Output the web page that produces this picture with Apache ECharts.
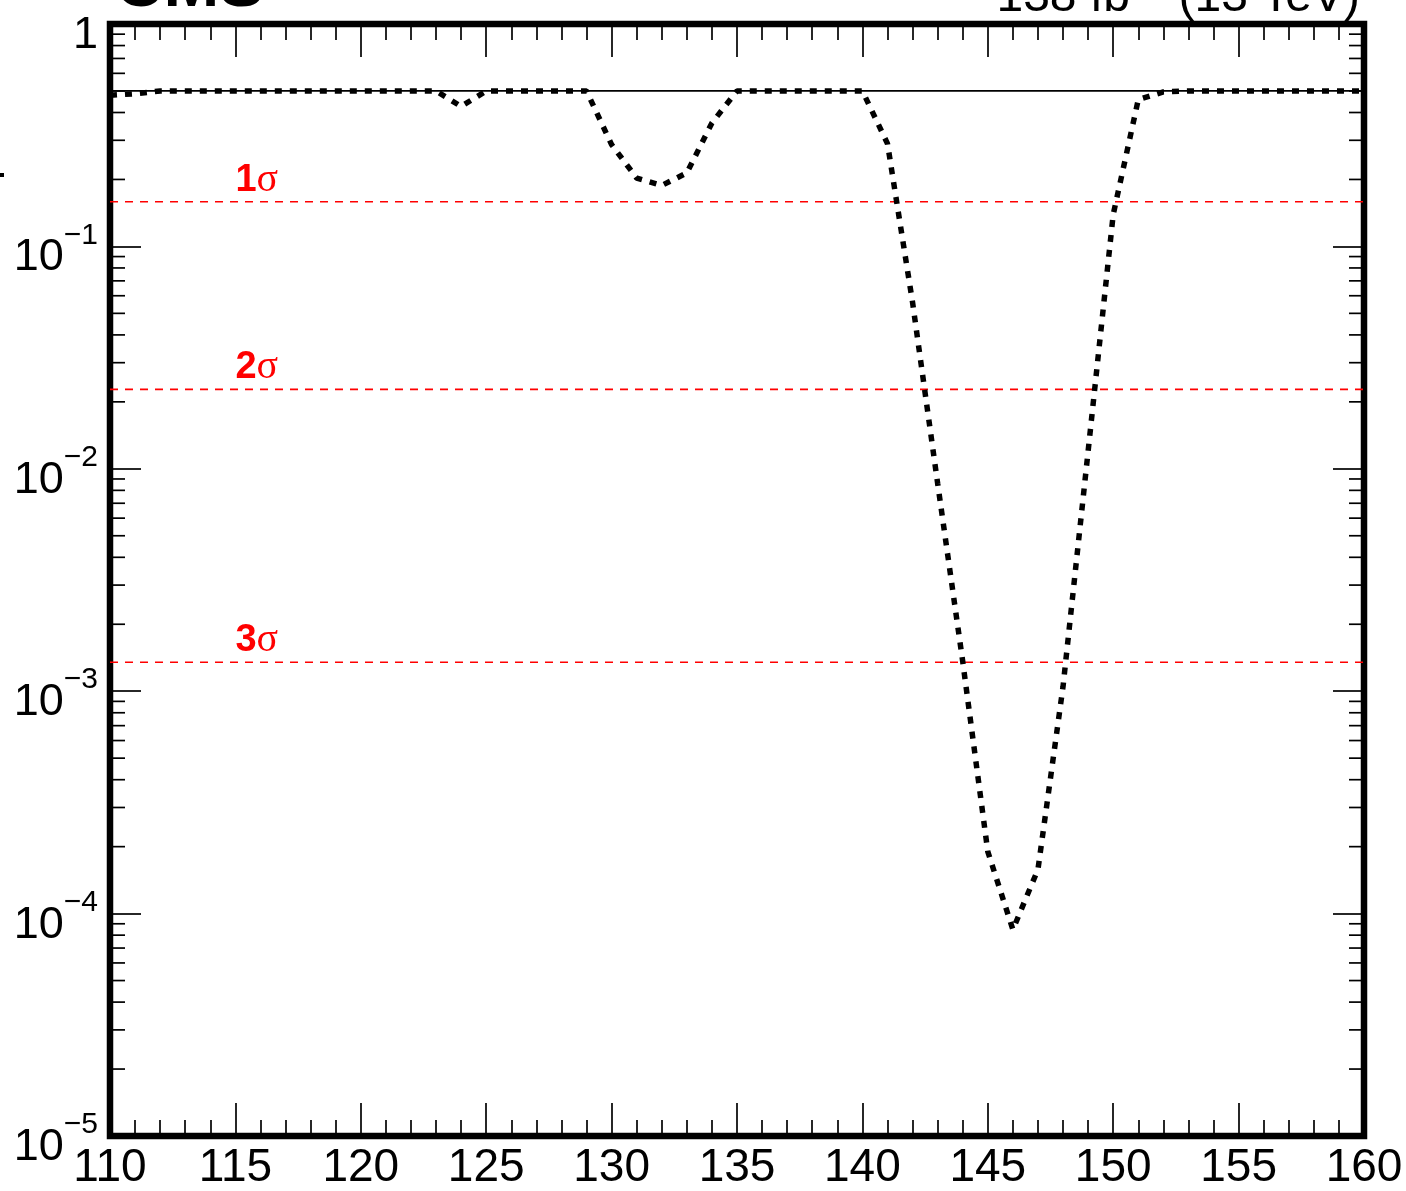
<!DOCTYPE html>
<html>
<head>
<meta charset="utf-8">
<script src="https://cdn.jsdelivr.net/npm/echarts@6/dist/echarts.min.js"></script>
<style>
html,body{margin:0;padding:0;background:#fff;}
#chart{width:1406px;height:1191px;}
</style>
</head>
<body>
<div id="chart"></div>
<script>
// ---- data ----
var massPoints = [110,111,112,113,114,115,116,117,118,119,120,121,122,123,124,125,126,127,128,129,130,131,132,133,134,135,136,137,138,139,140,141,142,143,144,145,146,147,148,149,150,151,152,153,154,155,156,157,158,159,160];
var pValues = [0.478,0.486,0.5,0.5,0.5,0.5,0.5,0.5,0.5,0.5,0.5,0.5,0.5,0.5,0.426,0.5,0.5,0.5,0.5,0.5,0.287,0.203,0.188,0.214,0.359,0.5,0.5,0.5,0.5,0.5,0.5,0.29,0.056,0.0086,0.00136,0.00019,0.0000847,0.000158,0.00105,0.012,0.139,0.457,0.495,0.5,0.5,0.5,0.5,0.5,0.5,0.5,0.5];
var referenceLevel = [0.5];
var sigmaLevels = [0.1587, 0.02275, 0.00135];
var sigmaLabels = ['1', '2', '3'];
var sigmaLabelMass = 115;
var xRange = [110, 160];
var yRange = [1e-5, 1];
var yMinorTicks = [];
[1e-5,1e-4,1e-3,1e-2,1e-1].forEach(function(d){ for (var k=2;k<=9;k++) yMinorTicks.push(d*k); });
var headerLeft = 'CMS';
var headerRight = ['138 fb', '\u22121', ' (13 TeV)'];
var yTitle = 'Local p-value';

var FONT = '"Liberation Sans", Arial, Helvetica, sans-serif';
var chart = echarts.init(document.getElementById('chart'), null, {renderer:'canvas'});

function yFmt(v){
  var e = Math.round(Math.log10(v));
  if (e === 0) return '{b|1}';
  return '{b|10}{s|\u2212' + Math.abs(e) + '}';
}
var yLabelRich = {
  b:{fontSize:45, lineHeight:60, verticalAlign:'bottom', fontFamily:FONT, color:'#000'},
  s:{fontSize:30, lineHeight:30, verticalAlign:'top', fontFamily:FONT, color:'#000'}
};

var tickStyle = {color:'#000', width:1.7};

function hLineSeries(name, levels, stroke, width, dash){
  return {
    type:'custom', name:name, xAxisIndex:0, yAxisIndex:0, silent:true, clip:true,
    data: levels.map(function(v){ return [xRange[0], v]; }),
    renderItem:function(params, api){
      var v = api.value(1);
      var p0 = api.coord([xRange[0], v]);
      var p1 = api.coord([xRange[1], v]);
      return {type:'line', shape:{x1:p0[0], y1:p0[1], x2:p1[0], y2:p1[1]},
        style:{stroke:stroke, lineWidth:width, lineDash:dash, fill:null}};
    },
    z:3
  };
}

var option = {
  animation:false,
  backgroundColor:'#fff',
  grid:{left:110, right:42, top:24, bottom:52.5, show:true, borderColor:'#000', borderWidth:6.5, backgroundColor:'transparent'},
  xAxis:[{
    type:'value', min:xRange[0], max:xRange[1], interval:5, position:'bottom',
    axisLine:{show:false},
    axisTick:{show:true, inside:true, length:33, lineStyle:tickStyle},
    minorTick:{show:true, splitNumber:5, length:16, lineStyle:tickStyle},
    splitLine:{show:false},
    axisLabel:{show:true, margin:9, fontSize:46, fontFamily:FONT, color:'#000', showMinLabel:true, showMaxLabel:true}
  },{
    type:'value', min:xRange[0], max:xRange[1], interval:5, position:'top',
    axisLine:{show:false},
    axisTick:{show:true, inside:true, length:33, lineStyle:tickStyle},
    minorTick:{show:true, splitNumber:5, length:16, lineStyle:tickStyle},
    splitLine:{show:false},
    axisLabel:{show:false}
  }],
  yAxis:[{
    type:'log', logBase:10, min:yRange[0], max:yRange[1], position:'left',
    axisLine:{show:false},
    axisTick:{show:true, inside:true, length:31, lineStyle:tickStyle},
    splitLine:{show:false},
    axisLabel:{show:true, margin:12, formatter:yFmt, rich:yLabelRich, padding:[8,0,0,0], showMinLabel:true, showMaxLabel:true}
  },{
    type:'log', logBase:10, min:yRange[0], max:yRange[1], position:'right',
    axisLine:{show:false},
    axisTick:{show:true, inside:true, length:31, lineStyle:tickStyle},
    splitLine:{show:false},
    axisLabel:{show:false}
  }],
  series:[
    {
      type:'custom', name:'yMinor', xAxisIndex:0, yAxisIndex:0, silent:true, clip:false,
      data: yMinorTicks.map(function(v){ return [xRange[0], v]; }),
      renderItem:function(params, api){
        var v = api.value(1);
        var pL = api.coord([xRange[0], v]);
        var pR = api.coord([xRange[1], v]);
        return {type:'group', children:[
          {type:'line', shape:{x1:pL[0], y1:pL[1], x2:pL[0]+15, y2:pL[1]}, style:{stroke:'#000', lineWidth:1.7}},
          {type:'line', shape:{x1:pR[0], y1:pR[1], x2:pR[0]-15, y2:pR[1]}, style:{stroke:'#000', lineWidth:1.7}}
        ]};
      }
    },
    hLineSeries('sigmaLines', sigmaLevels, '#ff0000', 1.6, [8,7]),
    hLineSeries('reference', referenceLevel, '#000000', 1.7, null),
    {
      type:'scatter', name:'sigmaLabels', xAxisIndex:0, yAxisIndex:0, silent:true,
      symbolSize:1, itemStyle:{color:'rgba(0,0,0,0)', opacity:1},
      data: sigmaLevels.map(function(v,i){ return {value:[sigmaLabelMass, v], name:sigmaLabels[i]}; }),
      label:{
        show:true, position:'top', align:'left', distance:2, color:'#ff0000', textBorderWidth:0, opacity:1,
        formatter:function(p){ return '{n|' + p.name + '}{s|\u03c3}'; },
        rich:{
          n:{fontSize:38, lineHeight:38, fontWeight:'bold', fontFamily:FONT, color:'#ff0000', textBorderWidth:0},
          s:{fontSize:40, lineHeight:38, fontFamily:'"Liberation Serif", "DejaVu Serif", serif', color:'#ff0000', textBorderWidth:0}
        }
      },
      z:4
    },
    {
      type:'line', name:'pvalue', xAxisIndex:0, yAxisIndex:0,
      data: massPoints.map(function(m,i){ return [m, pValues[i]]; }),
      showSymbol:false, symbol:'none', smooth:false,
      lineStyle:{color:'#000', width:5.5, type:[7,8], cap:'butt'},
      z:5
    }
  ],
  graphic:[
    {type:'text', x:115, y:-12, z:10,
      style:{text:headerLeft, font:'bold 67px ' + FONT, fill:'#000', textAlign:'left', textVerticalAlign:'middle', lineHeight:67}},
    {type:'text', x:1360, y:-9, z:10,
      style:{text:'{b|' + headerRight[0] + '}{s|' + headerRight[1] + '}{b|' + headerRight[2] + '}',
        textAlign:'right', textVerticalAlign:'middle', fill:'#000',
        rich:{
          b:{fontSize:48, lineHeight:62, verticalAlign:'bottom', fontFamily:FONT, fill:'#000'},
          s:{fontSize:31, lineHeight:31, verticalAlign:'top', fontFamily:FONT, fill:'#000'}
        }}},
    {type:'text', x:5, y:300, rotation:Math.PI/2, z:10,
      style:{text:yTitle, font:'45px ' + FONT, fill:'#000', textAlign:'left', textVerticalAlign:'bottom', lineHeight:45}}
  ]
};
chart.setOption(option);
</script>
</body>
</html>
